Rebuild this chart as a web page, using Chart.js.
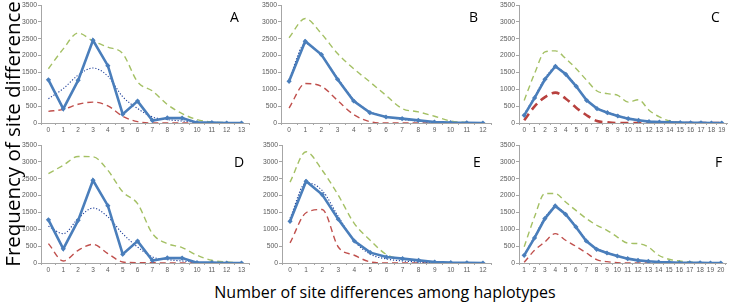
<!DOCTYPE html>
<html>
<head>
<meta charset="utf-8">
<script src="https://cdn.jsdelivr.net/npm/chart.js@4/dist/chart.umd.min.js"></script>
<style>
  html, body { margin: 0; padding: 0; background: #ffffff; }
  body { width: 732px; height: 306px; position: relative; overflow: hidden; font-family: "Open Sans", sans-serif; }
  canvas { position: absolute; }
  .letter { position: absolute; font-family: "Open Sans", sans-serif; font-size: 14px; line-height: 14px; color: #000; }
  #xtitle { position: absolute; left: 0; width: 770px; text-align: center; top: 282px; font-size: 16px; line-height: 20px; color: #000; }
  #ytitle { position: absolute; left: 12px; top: 129px; width: 320px; margin-left: -160px; text-align: center; font-size: 20.5px; line-height: 24px; margin-top: -12px; transform: rotate(-90deg); color: #000; white-space: nowrap; }
</style>
</head>
<body>
<canvas id="cA"></canvas>
<canvas id="cB"></canvas>
<canvas id="cC"></canvas>
<canvas id="cD"></canvas>
<canvas id="cE"></canvas>
<canvas id="cF"></canvas>
<div class="letter" style="left:230px; top:10px;">A</div>
<div class="letter" style="left:469px; top:10px;">B</div>
<div class="letter" style="left:711px; top:10px;">C</div>
<div class="letter" style="left:234px; top:155px;">D</div>
<div class="letter" style="left:473px; top:155px;">E</div>
<div class="letter" style="left:715px; top:155px;">F</div>
<div id="xtitle">Number of site differences among haplotypes</div>
<div id="ytitle">Frequency of site differences</div>
<script>
// ---- categories (tick labels) ----
const labelsA = ['0','1','2','3','4','5','6','7','8','9','10','11','12','13'];
const labelsB = ['0','1','2','3','4','5','6','7','8','9','10','11','12'];
const labelsC = ['0','1','2','3','4','5','6','7','8','9','10','11','12','13','14','15','16','17','18','19'];
const labelsF = ['1','2','3','4','5','6','7','8','9','10','11','12','13','14','15','16','17','18','19','20'];
const yTicks = [0, 500, 1000, 1500, 2000, 2500, 3000, 3500];

// ---- panel A ----
const obsA = [1280, 420, 1265, 2455, 1700, 260, 650, 75, 150, 145, 10, 10, 0, 0];
const expA = [720, 1020, 1420, 1630, 1390, 780, 430, 180, 100, 60, 20, 5, 0, 0];
const upA  = [1610, 2200, 2670, 2430, 2250, 2060, 1220, 950, 550, 280, 100, 30, 10, 0];
const lowA = [345, 405, 555, 620, 510, 200, 40, 0, 0, 0, 0, 0, 0, 0];

// ---- panel B ----
const obsB = [1237, 2425, 2030, 1297, 653, 307, 178, 129, 79, 30, 10, 5, 0];
const expB = [1300, 2350, 2000, 1330, 700, 340, 190, 110, 55, 20, 10, 0, 0];
const upB  = [2530, 3100, 2650, 2060, 1610, 1220, 820, 430, 330, 200, 60, 20, 0];
const lowB = [445, 1170, 1090, 670, 250, 40, 0, 0, 0, 0, 0, 0, 0];

// ---- panel C ----
const obsC = [228, 743, 1297, 1683, 1445, 1089, 673, 426, 307, 208, 129, 79, 40, 30, 20, 10, 5, 5, 0, 0];
const expC = [260, 780, 1330, 1640, 1460, 1100, 700, 440, 320, 220, 140, 85, 45, 25, 12, 5, 0, 0, 0, 0];
const upC  = [670, 1470, 2110, 2140, 1910, 1610, 1270, 950, 870, 820, 620, 690, 380, 180, 60, 20, 0, 0, 0, 0];
const lowC = [80, 495, 770, 900, 720, 455, 230, 60, 20, 0, 0, 0, 0, 0, 0, 0, 0, 0, 0, 0];

// ---- panel D ----
const obsD = [1280, 420, 1265, 2455, 1700, 260, 650, 75, 150, 145, 10, 10, 0, 0];
const expD = [1090, 870, 1320, 1630, 1370, 870, 475, 180, 100, 60, 20, 5, 0, 0];
const upD  = [2650, 2900, 3160, 3150, 2750, 2110, 1760, 870, 575, 455, 230, 80, 30, 0];
const lowD = [575, 60, 375, 555, 280, 30, 10, 10, 0, 0, 0, 0, 0, 0];

// ---- panel E ----
const obsE = [1237, 2425, 2030, 1297, 653, 307, 178, 129, 79, 30, 10, 5, 0];
const expE = [1330, 2380, 2150, 1380, 650, 260, 120, 60, 30, 10, 0, 0, 0];
const upE  = [2400, 3300, 2750, 2010, 1170, 670, 250, 120, 60, 20, 0, 0, 0];
const lowE = [595, 1490, 1585, 475, 230, 30, 0, 0, 0, 0, 0, 0, 0];

// ---- panel F ----
const obsF = [228, 743, 1317, 1693, 1445, 1069, 653, 406, 297, 208, 129, 79, 50, 30, 20, 5, 5, 5, 0, 0];
const expF = [250, 780, 1340, 1650, 1460, 1090, 690, 430, 310, 215, 135, 85, 50, 28, 14, 6, 0, 0, 0, 0];
const upF  = [480, 1370, 2060, 2060, 1810, 1560, 1320, 1120, 970, 770, 590, 575, 475, 230, 110, 60, 30, 10, 0, 0];
const lowF = [20, 375, 625, 870, 675, 495, 300, 100, 40, 10, 0, 0, 0, 0, 0, 0, 0, 0, 0, 0];

const YW = 36, PT = 6, XH = 14;
const AXIS = '#a6a6a6', TXT = '#595959';

function panel(id, labels, obs, exp, up, low, left, right, top, bottom, redThick) {
  const cv = document.getElementById(id);
  const w = right - left + YW, h = bottom - top + PT + XH;
  cv.width = w; cv.height = h;
  cv.style.left = (left - YW) + 'px'; cv.style.top = (top - PT) + 'px';
  cv.style.width = w + 'px'; cv.style.height = h + 'px';
  new Chart(cv, {
    type: 'line',
    data: {
      labels: labels,
      datasets: [
        { data: obs, borderColor: '#4a7ebb', backgroundColor: '#4a7ebb', borderWidth: 2.6,
          pointStyle: 'rectRot', pointRadius: 2.6, pointBorderWidth: 0, tension: 0, order: 0 },
        { data: exp, borderColor: '#1f3f99', borderWidth: 1.1, borderDash: [1.2, 1.8],
          pointRadius: 0, cubicInterpolationMode: 'monotone', order: 1 },
        { data: low, borderColor: redThick ? '#b8413e' : '#c0504d', borderWidth: redThick ? 2.6 : 1.4,
          borderDash: redThick ? [8, 5] : [6, 4], pointRadius: 0, cubicInterpolationMode: 'monotone', order: 2 },
        { data: up, borderColor: '#a4c064', borderWidth: 1.4, borderDash: [6, 4],
          pointRadius: 0, cubicInterpolationMode: 'monotone', order: 3 }
      ]
    },
    options: {
      responsive: false,
      animation: false,
      devicePixelRatio: 1,
      layout: { padding: { top: PT, right: 0, left: 0, bottom: 0 } },
      plugins: { legend: { display: false }, tooltip: { enabled: false }, title: { display: false } },
      scales: {
        x: {
          type: 'category',
          offset: true,
          grid: { display: true, drawOnChartArea: false, drawTicks: true, tickLength: 2, offset: true, color: AXIS },
          border: { color: AXIS, width: 1 },
          ticks: { autoSkip: false, maxRotation: 0, minRotation: 0, padding: 1, color: TXT,
                   font: { family: 'Liberation Sans', size: 6.5 } },
          afterFit: (s) => { s.height = XH; }
        },
        y: {
          min: 0, max: 3500,
          afterBuildTicks: (s) => { s.ticks = yTicks.map(v => ({ value: v })); },
          grid: { display: true, drawOnChartArea: false, drawTicks: true, tickLength: 3, color: AXIS },
          border: { color: AXIS, width: 1 },
          ticks: { padding: 1, color: TXT, font: { family: 'Liberation Sans', size: 6.8 },
                   callback: (v) => String(v) },
          afterFit: (s) => { s.width = YW; }
        }
      }
    }
  });
}

panel('cA', labelsA, obsA, expA, upA, lowA, 41, 253, 5, 123, false);
panel('cB', labelsB, obsB, expB, upB, lowB, 281, 495, 5, 123, false);
panel('cC', labelsC, obsC, expC, upC, lowC, 519, 731, 5, 123, true);
panel('cD', labelsA, obsD, expD, upD, lowD, 41, 253, 145, 263, false);
panel('cE', labelsB, obsE, expE, upE, lowE, 282, 495, 145, 263, false);
panel('cF', labelsF, obsF, expF, upF, lowF, 519, 730, 145, 263, false);
</script>
</body>
</html>
